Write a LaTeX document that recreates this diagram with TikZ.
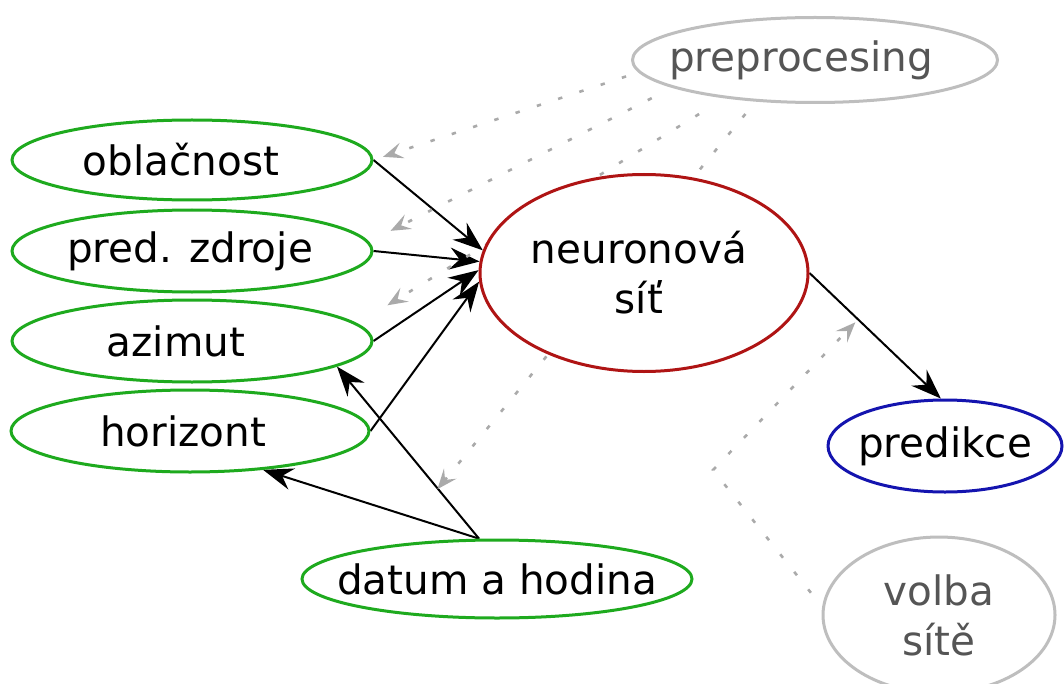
\documentclass[tikz,border=0pt]{standalone}
\usepackage{fontspec}
\setmainfont{DejaVu Sans}
\usetikzlibrary{shapes.geometric,arrows.meta,backgrounds}

\definecolor{inputgreen}{RGB}{30,170,30}
\definecolor{netred}{RGB}{175,20,20}
\definecolor{outblue}{RGB}{20,20,175}
\definecolor{auxline}{RGB}{190,190,190}
\definecolor{auxtext}{RGB}{85,85,85}
\definecolor{hintgrey}{RGB}{170,170,170}

% zero-width label (optionally shifted) so the ellipse size is set only by minimum width/height
\newcommand{\nodetext}[2][0pt]{\makebox[0pt]{\hspace*{#1}#2\hspace*{-#1}}}

\begin{document}
\begin{tikzpicture}[x=0.5pt,y=-0.5pt,
  every node/.style={font=\fontsize{20.25}{25}\selectfont},
  blob/.style={ellipse, draw, line width=1.5pt, inner sep=0pt, fill=white, align=center},
  inp/.style={blob, draw=inputgreen},
  aux/.style={blob, draw=auxline, text=auxtext},
  link/.style={draw=black, line width=1pt, -{Stealth[length=15pt,width=11pt,inset=5pt]}},
  hint/.style={draw=hintgrey, line width=1.3pt, dash pattern=on 2.2pt off 9pt,
    -{Stealth[length=10pt,width=8pt,inset=4pt]}}
]
\useasboundingbox (0,0) rectangle (1064,684);

% nodes
\node[aux, minimum width=182.5pt, minimum height=42.5pt] (pre) at (815,60) {\nodetext[-7pt]{preprocesing}};
\node[inp, minimum width=180pt, minimum height=40pt] (obl) at (192,160) {\nodetext[-5.5pt]{oblačnost}};
\node[inp, minimum width=180pt, minimum height=41pt] (zdr) at (192,251) {\nodetext[-1pt]{pred. zdroje}};
\node[inp, minimum width=180pt, minimum height=41pt] (azi) at (192,341) {\nodetext[-8pt]{azimut}};
\node[inp, minimum width=179pt, minimum height=41pt] (hor) at (190,431) {\nodetext[-3.5pt]{horizont}};
\node[blob, draw=netred, minimum width=164pt, minimum height=98.5pt] (net) at (644,273)
  {\nodetext[-2.5pt]{neuronová}\\\nodetext[-2.5pt]{síť}};
\node[blob, draw=outblue, minimum width=117pt, minimum height=46pt] (out) at (945,446) {\nodetext{predikce}};
\node[inp, minimum width=195pt, minimum height=39pt] (dat) at (497,579) {\nodetext{datum a hodina}};
\node[aux, minimum width=116pt, minimum height=78pt] (vol) at (939,615)
  {\nodetext{volba}\\\nodetext{sítě}};

\coordinate (bend) at (713,470);

\begin{scope}[on background layer]
  % inputs into the network
  \draw[link] (obl.east) -- (net.172);
  \draw[link] (zdr.east) -- (net.176);
  \draw[link] (azi.east) -- (net.179);
  \draw[link] (hor.east) -- (net.183);
  % date and hour determine azimuth and horizon
  \draw[link] (dat.114) -- (azi.-10);
  \draw[link] (dat.114) -- (hor.-28);
  % network output
  \draw[link] (net.east) -- node[coordinate, pos=0.37] (outmid) {} (out.95);
  % preprocessing hints
  \draw[hint, shorten <=6.5pt, shorten >=5pt] (pre.184) -- (obl.east);
  \draw[hint, shorten <=11.5pt, shorten >=12pt] (pre.191) -- (zdr.3);
  \draw[hint, shorten <=15pt, shorten >=17.5pt] (pre.203) -- (azi.6);
  \draw[hint, shorten <=8pt, shorten >=36pt] (pre.215) -- (dat.162);
  % choice of network
  \draw[hint, shorten <=9pt, shorten >=2pt] (vol.176) -- (bend) -- (outmid);
\end{scope}
\end{tikzpicture}
\end{document}
